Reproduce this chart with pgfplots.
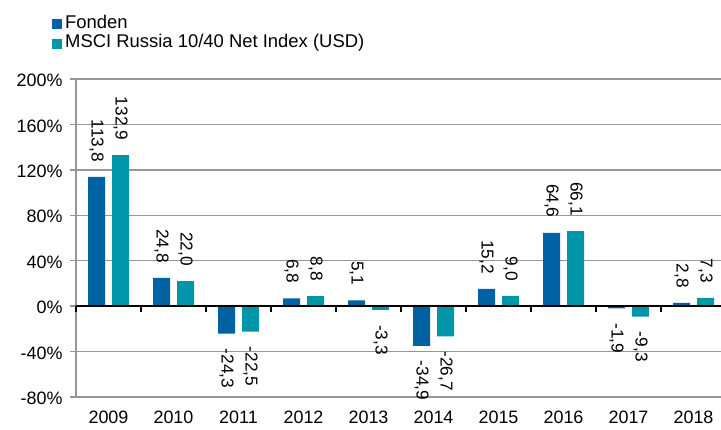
\documentclass[border=0pt]{standalone}
\usepackage{pgfplots}
\pgfplotsset{compat=1.18}
\usepackage{pgfplotstable}
\usepackage{fontspec}
\setmainfont{Liberation Sans}
\definecolor{fonden}{RGB}{0,97,163}
\definecolor{msci}{RGB}{0,150,170}
\definecolor{gridgray}{RGB}{150,150,150}
\pgfplotstableread{
x f fl m ml
0 113.8 113,8 132.9 132,9
1 24.8 24,8 22.0 22,0
2 -24.3 -24,3 -22.5 -22,5
3 6.8 6,8 8.8 8,8
4 5.1 5,1 -3.3 -3,3
5 -34.9 -34,9 -26.7 -26,7
6 15.2 15,2 9.0 9,0
7 64.6 64,6 66.1 66,1
8 -1.9 -1,9 -9.3 -9,3
9 2.8 2,8 7.3 7,3
}\data
\newcommand\lab{\fontsize{17.3}{20}\selectfont}
\newcommand\tlab{\fontsize{18}{21}\selectfont}
\newcommand\leg{\fontsize{18.5}{21}\selectfont}
\begin{document}
\begin{tikzpicture}
\useasboundingbox (0,0) rectangle (721bp,430bp);
\begin{axis}[
  at={(76bp,33bp)}, anchor=south west,
  scale only axis, width=645bp, height=318bp,
  xmin=-0.5, xmax=9.423, ymin=-80, ymax=200,
  axis lines*=left,
  x axis line style={draw=none},
  y axis line style={gridgray, line width=1.5bp},
  ytick={-80,-40,...,200},
  yticklabels={-80\%,-40\%,0\%,40\%,80\%,120\%,160\%,200\%},
  xtick={0,1,2,3,4,5,6,7,8,9},
  xticklabels={2009,2010,2011,2012,2013,2014,2015,2016,2017,2018},
  ymajorgrids, grid style={gridgray, line width=1.5bp},
  ytick style={gridgray, line width=1.5bp},
  major tick length=6bp, tick align=outside,
  xtick style={draw=none},
  ticklabel style={font=\tlab},
  yticklabel style={xshift=-4bp, yshift=-1.5bp},
  xticklabel style={yshift=-7bp, inner ysep=1bp},
  /pgf/number format/assume math mode=true,
  ybar=7bp, bar width=17bp,
  point meta=explicit symbolic,
  nodes near coords,
  visualization depends on={rawy \as \rawy},
  nodes near coords style={font=\lab, rotate=-90, inner xsep=15bp, inner ysep=0pt,
    /utils/exec={\ifdim\rawy pt<0pt\gdef\myanchor{west}\else\gdef\myanchor{east}\fi},
    anchor=\myanchor},
  legend style={at={(0,1)}, anchor=south west, xshift=-24bp, yshift=27bp,
    draw=none, fill=none, inner sep=0pt, font=\leg, row sep=2.5bp, column sep=0pt,
    nodes={inner sep=0pt, text height=13bp, text depth=4bp}},
  legend cell align=left,
  legend image code/.code={\fill[#1] (0bp,-5.5bp) rectangle (10bp,4.5bp);},
]
\addplot[fill=fonden, draw=none] table[x=x,y=f,meta=fl]{\data};
\addplot[fill=msci, draw=none] table[x=x,y=m,meta=ml]{\data};
\legend{\hspace{3bp}Fonden, \hspace{3bp}MSCI Russia 10/40 Net Index (USD)}
\end{axis}
\begin{axis}[
  at={(76bp,33bp)}, anchor=south west,
  scale only axis, width=645bp, height=318bp,
  xmin=-0.5, xmax=9.423, ymin=-80, ymax=200,
  axis x line=middle, axis y line=none,
  x axis line style={black, line width=2bp, -},
  xtick={-0.5,0.5,1.5,2.5,3.5,4.5,5.5,6.5,7.5,8.5}, xticklabels={},
  xtick style={black, line width=1.5bp},
  xtick align=outside, major tick length=6bp,
  ytick=\empty,
]
\end{axis}
\end{tikzpicture}
\end{document}
